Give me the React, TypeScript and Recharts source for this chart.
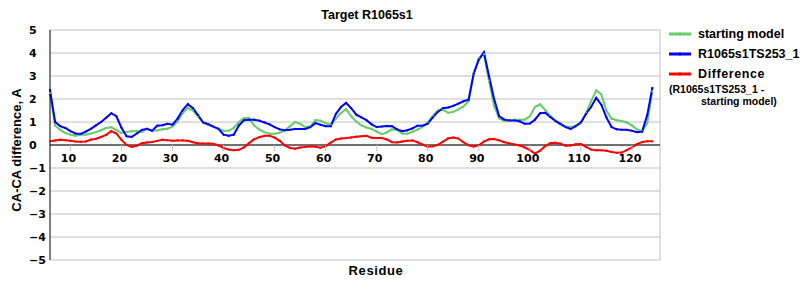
import { CartesianGrid, Line, LineChart, ReferenceLine, XAxis, YAxis } from "recharts";

const residues = [
  6, 7, 8, 9, 10, 11, 12, 13, 14, 15,
  16, 17, 18, 19, 20, 21, 22, 23, 24, 25,
  26, 27, 28, 29, 30, 31, 32, 33, 34, 35,
  36, 37, 38, 39, 40, 41, 42, 43, 44, 45,
  46, 47, 48, 49, 50, 51, 52, 53, 54, 55,
  56, 57, 58, 59, 60, 61, 62, 63, 64, 65,
  66, 67, 68, 69, 70, 71, 72, 73, 74, 75,
  76, 77, 78, 79, 80, 81, 82, 83, 84, 85,
  86, 87, 88, 89, 90, 91, 92, 93, 94, 95,
  96, 97, 98, 99, 100, 101, 102, 103, 104, 105,
  106, 107, 108, 109, 110, 111, 112, 113, 114, 115,
  116, 117, 118, 119, 120, 121, 122, 123, 124,
];

const startingModel = [
  2.26, 0.85, 0.66, 0.52, 0.45, 0.4, 0.45, 0.45, 0.5, 0.56,
  0.64, 0.74, 0.77, 0.66, 0.52, 0.57, 0.6, 0.6, 0.57, 0.7,
  0.63, 0.63, 0.68, 0.71, 0.8, 1.03, 1.39, 1.61, 1.5, 1.24,
  0.98, 0.88, 0.8, 0.7, 0.62, 0.62, 0.75, 1.0, 1.17, 1.17,
  0.85, 0.67, 0.56, 0.49, 0.49, 0.53, 0.64, 0.81, 1.0, 0.92,
  0.78, 0.8, 1.08, 1.06, 0.95, 0.88, 1.15, 1.39, 1.56, 1.25,
  1.02, 0.85, 0.76, 0.7, 0.58, 0.47, 0.55, 0.68, 0.65, 0.5,
  0.49, 0.57, 0.67, 0.8, 0.98, 1.27, 1.5, 1.53, 1.4, 1.44,
  1.55, 1.68, 1.9, 3.1, 3.78, 3.95, 2.8, 1.7, 1.15, 1.05,
  1.07, 1.1, 1.1, 1.1, 1.25, 1.65, 1.77, 1.53, 1.27, 1.07,
  0.88, 0.81, 0.77, 0.84, 0.95, 1.4, 1.9, 2.38, 2.2, 1.5,
  1.15, 1.08, 1.04, 0.98, 0.85, 0.68, 0.6, 0.95, 2.33,
];

const model253 = [
  2.4, 1.0, 0.82, 0.74, 0.6, 0.5, 0.48, 0.58, 0.7, 0.85,
  1.0, 1.18, 1.38, 1.25, 0.75, 0.38, 0.35, 0.5, 0.66, 0.7,
  0.62, 0.84, 0.86, 0.92, 0.88, 1.15, 1.52, 1.78, 1.6, 1.3,
  0.98, 0.9, 0.8, 0.7, 0.45, 0.4, 0.45, 0.85, 1.08, 1.1,
  1.1, 1.06, 0.98, 0.9, 0.78, 0.68, 0.64, 0.66, 0.7, 0.7,
  0.7, 0.78, 0.95, 0.88, 0.82, 0.82, 1.35, 1.65, 1.83, 1.6,
  1.32, 1.2, 1.08, 0.9, 0.78, 0.8, 0.83, 0.82, 0.68, 0.6,
  0.64, 0.72, 0.84, 0.84, 0.93, 1.2, 1.45, 1.6, 1.63, 1.7,
  1.8, 1.9, 1.97, 3.1, 3.71, 4.03, 3.0, 2.0, 1.25, 1.1,
  1.07, 1.07, 1.03, 0.92, 0.93, 1.1, 1.38, 1.4, 1.22, 1.05,
  0.92, 0.78, 0.7, 0.82, 0.98, 1.35, 1.65, 2.05, 1.75, 1.2,
  0.78, 0.68, 0.66, 0.66, 0.62, 0.56, 0.58, 1.3, 2.48,
];

const difference = [
  0.16, 0.2, 0.23, 0.21, 0.18, 0.15, 0.14, 0.15, 0.23, 0.27,
  0.35, 0.44, 0.6, 0.5, 0.22, 0.0, -0.08, -0.03, 0.08, 0.11,
  0.13, 0.18, 0.23, 0.21, 0.18, 0.2, 0.2, 0.18, 0.12, 0.07,
  0.06, 0.06, 0.05, -0.02, -0.13, -0.2, -0.23, -0.21, -0.1, 0.08,
  0.25, 0.34, 0.4, 0.4, 0.32, 0.18, -0.02, -0.13, -0.16, -0.11,
  -0.09, -0.06, -0.08, -0.12, -0.05, 0.1, 0.24, 0.28, 0.3, 0.33,
  0.36, 0.38, 0.4, 0.31, 0.3, 0.3, 0.24, 0.12, 0.11, 0.15,
  0.18, 0.2, 0.12, 0.02, -0.08, -0.06, 0.01, 0.15, 0.29, 0.33,
  0.28, 0.12, -0.01, -0.06, -0.01, 0.15, 0.25, 0.26, 0.2, 0.12,
  0.07, 0.02, -0.02, -0.1, -0.22, -0.37, -0.25, -0.05, 0.08, 0.1,
  0.06, -0.03, -0.02, 0.03, 0.04, -0.08, -0.2, -0.23, -0.23, -0.25,
  -0.3, -0.34, -0.33, -0.22, -0.1, 0.04, 0.13, 0.16, 0.16,
];

const xTicks = [10, 20, 30, 40, 50, 60, 70, 80, 90, 100, 110, 120];
const yTicks = [-5, -4, -3, -2, -1, 0, 1, 2, 3, 4, 5];

const data = residues.map((r, i) => ({
  residue: r,
  start: startingModel[i],
  model: model253[i],
  diff: difference[i],
}));

const GREEN = "#66cc66";
const BLUE = "#0000ff";
const RED = "#ff0000";
const tickFont = "'DejaVu Sans', Verdana, sans-serif";
const labelFont = "'Liberation Sans', Arial, sans-serif";

// x labels sit on the zero line, not at the bottom of the plot
function XTick(props: any) {
  const { x, y, payload } = props;
  const zeroY = y - 115;
  return (
    <g>
      <line x1={x} x2={x} y1={zeroY} y2={zeroY + 6} stroke="#c0c0c0" />
      <text x={x - 2} y={zeroY + 17} textAnchor="middle" fontFamily={tickFont} fontWeight="bold" fontSize={11} fill="#000">
        {payload.value}
      </text>
    </g>
  );
}

function YTick(props: any) {
  const { y, payload } = props;
  const v = payload.value as number;
  return (
    <text x={29} y={y + 4} textAnchor="start" fontFamily={tickFont} fontWeight="bold" fontSize={11} fill="#000">
      {v < 0 ? `\u2212${Math.abs(v)}` : v}
    </text>
  );
}

function LegendSample({ color }: { color: string }) {
  return (
    <svg width={24} height={8} style={{ marginRight: 6, flex: "none" }}>
      <line x1={1} x2={23} y1={4} y2={4} stroke={color} strokeWidth={3} />
      <rect x={11} y={2.5} width={2} height={3} fill={color} />
    </svg>
  );
}

function LegendBox() {
  const row = { display: "flex", alignItems: "center", height: 20 };
  const txt = { fontFamily: labelFont, fontWeight: "bold" as const, fontSize: 12.5, color: "#000", whiteSpace: "nowrap" as const };
  return (
    <div style={{ position: "absolute", left: 668, top: 24, lineHeight: 1 }}>
      <div style={row}>
        <LegendSample color={GREEN} />
        <span style={txt}>starting model</span>
      </div>
      <div style={row}>
        <LegendSample color={BLUE} />
        <span style={txt}>R1065s1TS253_1</span>
      </div>
      <div style={row}>
        <LegendSample color={RED} />
        <span style={{ ...txt, letterSpacing: 0.6 }}>Difference</span>
      </div>
      <div style={{ ...txt, fontSize: 10.5, marginLeft: 1 }}>(R1065s1TS253_1 -</div>
      <div style={{ ...txt, fontSize: 10.5, marginTop: 1, marginLeft: 33 }}>starting model)</div>
    </div>
  );
}

const dotStyle = (c: string) => ({ r: 1.1, fill: c, stroke: c, strokeWidth: 0 });

export default function App() {
  return (
    <div style={{ position: "absolute", left: 0, top: 0, width: 800, height: 300, background: "#fff" }}>
      <LineChart width={800} height={300} data={data} margin={{ top: 30, right: 140, left: 10, bottom: 0 }}>
        <text x={367} y={19} textAnchor="middle" fontFamily={labelFont} fontWeight="bold" fontSize={12.5} fill="#000">
          Target R1065s1
        </text>
        <text
          x={21}
          y={150}
          transform="rotate(-90 21 150)"
          textAnchor="middle"
          fontFamily={labelFont}
          fontWeight="bold"
          fontSize={13}
          fill="#000"
        >
          CA-CA difference, A
        </text>
        <text x={376} y={275} textAnchor="middle" fontFamily={labelFont} fontWeight="bold" fontSize={13} letterSpacing={0.6} fill="#000">
          Residue
        </text>
        <CartesianGrid horizontal vertical={false} stroke="#c0c0c0" />
        <XAxis
          dataKey="residue"
          type="number"
          domain={[6, 125.5]}
          ticks={xTicks}
          interval={0}
          height={40}
          axisLine={false}
          tickLine={false}
          tickSize={0}
          tickMargin={0}
          tick={<XTick />}
        />
        <YAxis
          domain={[-5, 5]}
          ticks={yTicks}
          interval={0}
          width={40}
          axisLine={{ stroke: "#000", strokeWidth: 1 }}
          tickLine={false}
          tick={<YTick />}
        />
        <ReferenceLine x={125.5} stroke="#c0c0c0" />
        <ReferenceLine y={0} stroke="#000" />
        <Line dataKey="start" stroke={GREEN} strokeWidth={2} dot={dotStyle(GREEN)} isAnimationActive={false} />
        <Line dataKey="model" stroke={BLUE} strokeWidth={2} dot={dotStyle(BLUE)} isAnimationActive={false} />
        <Line dataKey="diff" stroke={RED} strokeWidth={2} dot={dotStyle(RED)} isAnimationActive={false} />
      </LineChart>
      <LegendBox />
    </div>
  );
}
